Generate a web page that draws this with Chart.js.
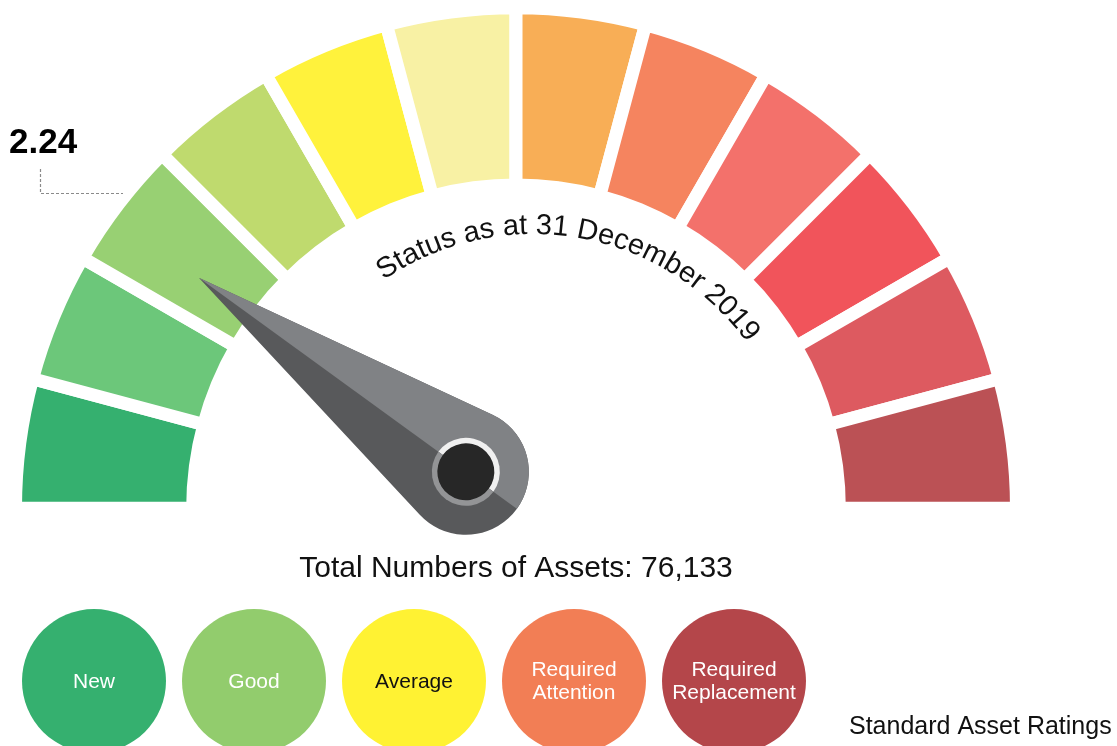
<!DOCTYPE html>
<html>
<head>
<meta charset="utf-8">
<script src="https://cdn.jsdelivr.net/npm/chart.js@4.4.1/dist/chart.umd.min.js"></script>
<style>
  html, body { margin: 0; padding: 0; background: #fff; }
  #wrap { position: relative; width: 1117px; height: 746px; }
</style>
</head>
<body>
<div id="wrap"><canvas id="gauge"></canvas></div>
<script>
// gauge segments, left to right
const segmentValues = [1, 1, 1, 1, 1, 1, 1, 1, 1, 1, 1, 1];
const segmentColors = ['#35b06f', '#6cc77a', '#98d073', '#bfda6e', '#fff23c', '#f8f1a4',
                       '#f8ae56', '#f5845f', '#f3716b', '#f1545b', '#dd5a60', '#bb5155'];

// needle position in gauge units (0 = left end, 12 = right end)
const needleValue = 2.4;
const scoreLabel = '2.24';
const statusText = 'Status as at 31 December 2019';
const totalText = 'Total Numbers of Assets: 76,133';

// rating legend
const ratingLabels = [['New'], ['Good'], ['Average'], ['Required', 'Attention'], ['Required', 'Replacement']];
const ratingColors = ['#35b06f', '#92cc6d', '#fff233', '#f27e55', '#b4464a'];
const ratingTextColors = ['#ffffff', '#ffffff', '#111111', '#ffffff', '#ffffff'];
const legendTitle = 'Standard Asset Ratings';

const FONT = '"Liberation Sans", Arial, Helvetica, sans-serif';

const gaugeExtras = {
  id: 'gaugeExtras',
  afterDraw(chart) {
    const ctx = chart.ctx;
    const arcs = chart.getDatasetMeta(0).data;
    const cx = arcs[0].x, cy = arcs[0].y;
    const start = arcs[0].startAngle, end = arcs[arcs.length - 1].endAngle;
    const total = segmentValues.reduce((a, b) => a + b, 0);
    const ang = start + (end - start) * needleValue / total;

    // needle
    const hubOff = 62, tipDist = 392, baseR = 63;
    const L = tipDist - hubOff;
    const phi = Math.acos(baseR / L);
    ctx.save();
    ctx.translate(cx + hubOff * Math.cos(ang), cy + hubOff * Math.sin(ang));
    ctx.rotate(ang);
    const needlePath = () => {
      ctx.beginPath();
      ctx.moveTo(L, 0);
      ctx.lineTo(baseR * Math.cos(phi), baseR * Math.sin(phi));
      ctx.arc(0, 0, baseR, phi, -phi, false);
      ctx.closePath();
    };
    needlePath();
    ctx.fillStyle = '#58595b';
    ctx.fill();
    ctx.save();
    ctx.beginPath();
    ctx.rect(-100, 0, L + 200, 100);
    ctx.clip();
    needlePath();
    ctx.fillStyle = '#808285';
    ctx.fill();
    ctx.beginPath();
    ctx.arc(0, 0, 34, 0, Math.PI);
    ctx.fillStyle = '#f0f0f0';
    ctx.fill();
    ctx.restore();
    ctx.beginPath();
    ctx.arc(0, 0, 34, Math.PI, 2 * Math.PI);
    ctx.fillStyle = '#939496';
    ctx.fill();
    ctx.beginPath();
    ctx.arc(0, 0, 28.5, 0, 2 * Math.PI);
    ctx.fillStyle = '#272727';
    ctx.fill();
    ctx.restore();

    // curved status text
    ctx.save();
    ctx.font = '29px ' + FONT;
    ctx.fillStyle = '#111';
    ctx.textAlign = 'center';
    ctx.textBaseline = 'alphabetic';
    const tcx = 533, tcy = 499, tr = 265, mid = -80.2 * Math.PI / 180;
    const tw = ctx.measureText(statusText).width;
    let a = mid - tw / 2 / tr;
    for (const ch of statusText) {
      const w = ctx.measureText(ch).width;
      const ca = a + w / 2 / tr;
      ctx.save();
      ctx.translate(tcx + tr * Math.cos(ca), tcy + tr * Math.sin(ca));
      ctx.rotate(ca + Math.PI / 2);
      ctx.fillText(ch, 0, 0);
      ctx.restore();
      a += w / tr;
    }
    ctx.restore();

    // score and its dashed pointer
    ctx.save();
    ctx.font = 'bold 35px ' + FONT;
    ctx.fillStyle = '#000';
    ctx.textAlign = 'left';
    ctx.fillText(scoreLabel, 9, 153);
    ctx.strokeStyle = '#8a8a8a';
    ctx.lineWidth = 1.2;
    ctx.setLineDash([3, 2]);
    ctx.beginPath();
    ctx.moveTo(40.5, 169);
    ctx.lineTo(40.5, 193.5);
    ctx.lineTo(123, 193.5);
    ctx.stroke();
    ctx.restore();

    // total
    ctx.save();
    ctx.font = '30px ' + FONT;
    ctx.fillStyle = '#111';
    ctx.textAlign = 'center';
    ctx.fillText(totalText, 516, 577);
    ctx.restore();

    // rating circles
    ctx.save();
    ratingLabels.forEach((lines, i) => {
      const x = 94 + 160 * i, y = 681;
      ctx.beginPath();
      ctx.arc(x, y, 72, 0, 2 * Math.PI);
      ctx.fillStyle = ratingColors[i];
      ctx.fill();
      ctx.font = '21px ' + FONT;
      ctx.fillStyle = ratingTextColors[i];
      ctx.textAlign = 'center';
      ctx.textBaseline = 'middle';
      lines.forEach((t, j) => {
        ctx.fillText(t, x, y + 1 + (j - (lines.length - 1) / 2) * 23);
      });
    });
    ctx.font = '25px ' + FONT;
    ctx.fillStyle = '#111';
    ctx.textAlign = 'left';
    ctx.textBaseline = 'alphabetic';
    ctx.fillText(legendTitle, 849, 734);
    ctx.restore();
  }
};

new Chart(document.getElementById('gauge'), {
  type: 'doughnut',
  data: {
    labels: segmentColors.map((c, i) => 'Segment ' + (i + 1)),
    datasets: [{
      data: segmentValues,
      backgroundColor: segmentColors,
      borderColor: '#ffffff',
      borderWidth: 13,
      borderAlign: 'center',
      hoverOffset: 0,
      radius: 500.5,
      cutout: '64.6%',
      rotation: -90,
      circumference: 180
    }]
  },
  options: {
    responsive: true,
    maintainAspectRatio: false,
    animation: false,
    layout: { padding: { left: 0, right: 85, top: 0, bottom: 230 } },
    plugins: { legend: { display: false }, tooltip: { enabled: false } },
    events: []
  },
  plugins: [gaugeExtras]
});
</script>
</body>
</html>
